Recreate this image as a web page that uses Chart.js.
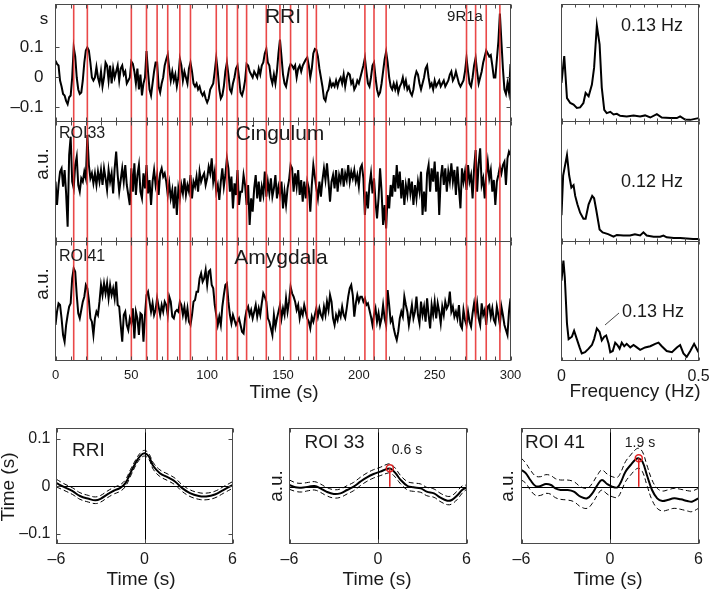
<!DOCTYPE html>
<html>
<head>
<meta charset="utf-8">
<script src="https://cdn.jsdelivr.net/npm/chart.js@4.4.0/dist/chart.umd.min.js"></script>
<style>
  html, body { margin: 0; padding: 0; background: #fff; overflow: hidden; }
  #fig { position: relative; width: 709px; height: 590px; overflow: hidden; }
  #fig canvas { position: absolute; }
</style>
</head>
<body>
<div id="fig"></div>
<script>
// ===== data: time series (1 s sampling, 0..300 s)
const sampleStep = 1;
const rri = [
  0.056, 0.045, 0.04, -0.01, -0.03, -0.055, -0.06, -0.078, -0.089, -0.066,
  -0.06, 0.0, 0.1, 0.07, 0.0, -0.04, -0.055, -0.05, -0.01, 0.05,
  0.09, 0.1, 0.09, 0.05, 0.0, -0.01, 0.0, 0.035, 0.0, -0.02,
  0.02, -0.03, 0.0, 0.05, 0.04, -0.01, 0.04, -0.02, 0.03, 0.0,
  0.02, 0.04, -0.01, 0.03, 0.04, 0.01, 0.02, -0.02, -0.01, 0.0,
  0.053, 0.045, 0.02, -0.02, 0.03, -0.04, 0.01, -0.06, -0.02, 0.0,
  0.088, 0.02, -0.04, -0.06, -0.02, 0.02, 0.05, 0.05, -0.03, -0.05,
  -0.02, 0.0, 0.04, 0.06, 0.076, 0.03, -0.01, 0.02, -0.01, 0.01,
  -0.03, 0.0, 0.062, 0.04, -0.01, 0.02, 0.0, -0.02, 0.03, 0.05,
  0.02, -0.02, -0.03, -0.02, -0.04, -0.03, -0.05, -0.06, -0.05, -0.07,
  -0.083, -0.07, -0.04, -0.03, -0.02, 0.02, 0.065, 0.02, -0.04, -0.07,
  -0.06, -0.03, 0.02, 0.05, 0.01, -0.04, -0.05, -0.02, 0.0, 0.03,
  0.04, 0.0, -0.05, -0.06, -0.04, -0.01, 0.045, 0.04, 0.02, 0.01,
  0.0, 0.02, 0.01, 0.0, 0.03, 0.01, 0.04, 0.05, 0.08, 0.095,
  0.05, 0.04, 0.0, -0.02, 0.01, -0.02, 0.02, 0.08, 0.126, 0.07,
  0.01, -0.02, -0.03, 0.0, 0.03, 0.045, 0.04, 0.03, 0.04, 0.0,
  0.03, 0.04, 0.02, 0.04, 0.05, 0.06, 0.067, 0.04, 0.0, 0.03,
  0.08, 0.095, 0.092, 0.07, 0.03, 0.0, -0.03, -0.07, -0.078, -0.05,
  -0.04, -0.01, -0.03, -0.02, -0.03, -0.01, -0.03, -0.01, 0.0, -0.02,
  0.01, -0.03, 0.0, 0.015, 0.01, -0.02, -0.01, -0.04, -0.03, -0.01,
  -0.02, 0.0, 0.02, 0.04, 0.065, 0.02, -0.02, -0.03, 0.0, 0.04,
  0.05, 0.0, -0.04, -0.06, -0.05, -0.02, 0.02, 0.06, 0.086, 0.05,
  0.0, -0.03, -0.04, -0.02, -0.04, -0.02, -0.05, -0.03, -0.02, 0.0,
  -0.03, -0.01, -0.04, -0.03, -0.05, -0.06, -0.04, 0.0, 0.02, 0.01,
  -0.02, -0.04, -0.02, 0.0, 0.03, 0.04, 0.0, -0.03, -0.02, -0.04,
  -0.01, -0.03, -0.02, -0.01, -0.03, -0.02, -0.01, -0.03, -0.02, -0.01,
  0.01, 0.02, -0.01, 0.0, 0.02, 0.0, -0.02, -0.03, -0.02, -0.01,
  0.02, 0.065, 0.02, -0.02, -0.03, 0.0, 0.04, 0.065, 0.02, -0.02,
  0.0, 0.02, 0.05, 0.07, 0.09, 0.08, 0.07, 0.075, 0.04, 0.0,
  0.0, 0.06, 0.12, 0.213, 0.12, 0.03, -0.04, -0.055, -0.02, -0.05,
  0.045
];
const cingulum = [
  0.0, -0.7, -0.1, 0.3, 0.4, -0.15, 0.35, -0.35, -1.35, 0.8,
  1.35, 0.0, -0.2, 0.5, 0.75, -0.1, -0.3, 0.1, 0.0, 0.3,
  0.1, 1.4, 0.5, 0.1, 0.25, -0.05, 0.25, -0.1, 0.3, 0.0,
  0.35, -0.1, 0.4, 0.1, -0.25, 0.35, 0.0, 0.25, -0.35, 0.4,
  0.9, 0.2, -0.3, 0.05, 0.4, 0.0, 0.5, -0.1, -0.4, -0.7,
  0.4, -0.3, 0.55, -0.4, 0.2, 0.5, -0.3, -0.5, 0.25, -0.2,
  0.5, -0.35, 0.05, -0.7, 0.0, 0.35, -0.1, 0.2, -0.4, 0.25,
  0.4, 0.15, 0.25, 0.0, -0.4, -0.05, -0.5, -0.25, -0.8, -0.15,
  -1.0, -0.2, -0.5, -0.1, -0.35, 0.1, -0.4, -0.1, -0.3, 0.2,
  -0.5, 0.0, -0.15, 0.15, -0.3, 0.3, 0.0, 0.15, 0.25, -0.1,
  0.1, 0.45, 0.25, 0.7, 0.0, 0.3, -0.3, -0.1, -0.55, 0.0,
  0.4, -0.15, 0.2, 0.7, 0.4, -0.3, 0.15, -0.8, -0.05, -0.4,
  0.35, -0.7, -0.3, -0.3, 0.2, -0.1, -0.7, -0.1, -1.3, -0.5,
  -0.9, -0.2, 0.2, -0.5, 0.0, -0.6, -0.15, -0.4, 0.3, -0.45,
  0.0, -0.35, 0.1, -0.45, -0.2, 0.2, -0.5, -0.15, -0.4, 0.0,
  -0.8, -0.3, -0.7, -0.2, 0.05, 0.5, 0.4, -0.3, 0.25, -0.15,
  0.35, -0.4, 0.05, -0.6, 0.0, -0.5, 0.0, -0.2, -0.9, -0.1,
  0.5, 0.15, -0.2, -0.5, 0.0, -0.45, 0.05, 0.4, 0.05, 0.55,
  0.0, -0.6, 0.0, 0.2, -0.2, 0.35, -0.3, 0.2, 0.0, 0.4,
  -0.15, 0.25, 0.05, 0.5, 0.0, 0.3, 0.1, 0.35, 0.0, 0.2,
  -0.15, 0.4, 0.5, 0.1, -1.0, -0.3, -0.8, -0.1, 0.25, -0.35,
  0.1, -0.6, -1.1, -0.5, 0.4, -0.3, -1.3, -0.7, -1.4, -0.4,
  -0.8, -0.1, -0.45, 0.2, -0.3, 0.5, -0.2, 0.3, -0.5, 0.05,
  -0.7, -0.1, -0.4, 0.1, -0.35, 0.0, -0.7, -0.1, -0.5, 0.0,
  -0.3, 0.3, -1.0, -0.3, -0.9, 0.25, 0.5, -0.3, 0.4, 0.0,
  0.6, -0.3, 0.3, -1.0, 0.1, 0.5, -0.1, 0.4, -0.3, 0.3,
  0.0, 0.55, 0.0, 0.35, -0.4, 0.45, -0.2, -0.8, 0.4, 0.0,
  0.3, -0.25, 0.5, 0.0, 0.2, -0.5, 0.4, 0.95, -0.3, 0.55,
  1.0, -0.1, 0.1, -0.5, 0.2, 0.6, 0.1, 0.35, -0.3, 0.05,
  -0.7, 0.0, 0.2, 0.45, 0.25, 0.5, 0.6, -0.1, 0.7, 0.9,
  0.8
];
const amygdala = [
  -0.4, 0.0, 0.25, 0.2, -0.2, -0.7, -0.9, -0.4, -0.1, 0.15,
  0.25, 1.0, 1.3, 1.2, 0.5, -0.05, -0.2, 0.05, 0.3, 0.45,
  0.8, 0.7, 0.35, -0.2, -0.3, -0.7, -0.2, 0.0, -0.1, 0.3,
  0.8, 0.5, 0.85, 0.55, 0.85, 0.4, 0.8, 0.5, 0.7, 0.4,
  0.9, 0.2, 0.15, -0.4, -0.9, -0.1, 0.0, -0.4, -0.55, -0.2,
  -0.35, 0.1, -0.8, 0.0, -0.2, -0.7, -0.05, -0.1, -0.9, -0.1,
  0.5, 0.6, 0.3, 0.0, 0.25, -0.1, 0.05, 0.4, 0.15, -0.1,
  0.2, 0.0, 0.3, 0.2, -0.1, 0.45, 0.3, -0.15, -0.2, 0.0,
  0.05, 0.0, 0.3, 0.2, -0.1, 0.15, -0.2, 0.1, -0.3, -0.4,
  -0.1, 0.3, 0.35, 0.6, 0.6, 1.0, 1.15, 0.9, 1.0, 1.25,
  0.8, 1.2, 1.25, 0.8, 0.7, 0.2, -0.1, -0.4, -0.15, -0.4,
  0.15, 0.5, 0.8, 0.85, 0.3, -0.1, -0.35, -0.1, -0.25, -0.4,
  -0.3, -0.2, -0.4, -0.6, -0.65, -0.2, 0.05, 0.15, -0.1, 0.05,
  -0.2, 0.0, 0.2, -0.15, 0.1, -0.1, 0.25, 0.55, 0.45, 0.3,
  -0.2, -0.3, -0.5, -0.7, -0.1, -0.45, -0.2, 0.0, 0.2, -0.2,
  0.1, -0.1, 0.4, 0.0, 0.3, 0.75, 0.55, 0.45, 0.3, 0.05,
  0.2, -0.2, 0.05, -0.1, 0.2, 0.0, -0.2, -0.3, -0.5, -0.15,
  -0.3, -0.1, 0.1, -0.15, 0.1, -0.1, -0.2, 0.15, -0.1, 0.3,
  0.05, 0.5, 0.3, -0.2, -0.4, -0.1, -0.25, 0.0, -0.15, 0.15,
  -0.1, -0.2, 0.1, 0.45, 0.7, 0.8, 0.5, -0.15, 0.25, 0.5,
  0.3, 0.45, 0.45, 0.3, 0.4, 0.2, 0.25, 0.05, -0.15, -0.4,
  -0.1, 0.1, -0.3, -0.05, -0.4, -0.2, 0.2, -0.2, -0.4, 0.65,
  0.2, -0.3, -0.2, -0.5, -0.7, -0.85, -0.6, -0.2, 0.0, -0.15,
  0.45, 0.2, 0.0, -0.4, -0.1, 0.2, -0.2, 0.0, 0.45, -0.1,
  -0.35, 0.3, -0.1, 0.15, -0.3, 0.4, -0.1, -0.5, 0.2, -0.1,
  0.3, -0.2, 0.25, 0.0, -0.35, 0.15, -0.1, 0.3, 0.1, 0.2,
  0.6, 0.0, 0.15, -0.15, 0.0, -0.2, 0.2, -0.4, -0.5, 0.05,
  -0.25, -0.4, 0.0, -0.3, -0.45, -0.05, 0.25, -0.1, 0.25, -0.2,
  -0.4, 0.25, -0.1, 0.05, -0.4, 0.15, 0.2, -0.15, 0.1, -0.25,
  -0.35, 0.15, -0.1, -0.4, 0.15, -0.1, -0.4, -0.55, -0.7, 0.0,
  0.4
];
// event markers (s)
const eventTimes = [12, 21, 50, 60, 67, 74, 82, 89, 106, 113, 120, 126, 139, 148, 155, 166, 172, 204, 210, 218, 271, 277, 284, 293];

// ===== data: spectra (normalised power)
const freqRRI = [0, 0.010, 0.020, 0.032, 0.044, 0.056, 0.068, 0.080, 0.088, 0.099, 0.111, 0.119, 0.129, 0.139, 0.147, 0.156, 0.165, 0.178, 0.190, 0.202, 0.214, 0.238, 0.263, 0.287, 0.305, 0.324, 0.348, 0.366, 0.397, 0.421, 0.433, 0.451, 0.470, 0.500];
const powRRI = [0.33, 0.56, 0.20, 0.158, 0.144, 0.115, 0.12, 0.158, 0.244, 0.216, 0.316, 0.46, 0.82, 0.66, 0.29, 0.10, 0.072, 0.083, 0.06, 0.066, 0.049, 0.043, 0.052, 0.043, 0.052, 0.034, 0.063, 0.034, 0.029, 0.029, 0.043, 0.017, 0.014, 0.029];
const freqCing = [0, 0.006, 0.020, 0.028, 0.036, 0.044, 0.050, 0.058, 0.068, 0.080, 0.088, 0.099, 0.112, 0.119, 0.127, 0.139, 0.150, 0.170, 0.190, 0.202, 0.226, 0.250, 0.268, 0.287, 0.299, 0.311, 0.336, 0.360, 0.372, 0.384, 0.410, 0.433, 0.457, 0.480, 0.500];
const powCing = [0.22, 0.55, 0.72, 0.55, 0.45, 0.47, 0.38, 0.31, 0.24, 0.19, 0.19, 0.31, 0.38, 0.36, 0.26, 0.10, 0.076, 0.062, 0.04, 0.055, 0.05, 0.05, 0.06, 0.05, 0.076, 0.05, 0.04, 0.04, 0.05, 0.035, 0.03, 0.03, 0.025, 0.02, 0.02];
const freqAmyg = [0, 0.007, 0.012, 0.020, 0.026, 0.038, 0.046, 0.056, 0.066, 0.074, 0.086, 0.099, 0.111, 0.119, 0.129, 0.139, 0.147, 0.156, 0.163, 0.172, 0.178, 0.187, 0.196, 0.204, 0.212, 0.220, 0.229, 0.238, 0.251, 0.263, 0.275, 0.287, 0.305, 0.324, 0.342, 0.354, 0.366, 0.384, 0.403, 0.421, 0.433, 0.445, 0.457, 0.470, 0.484, 0.500];
const powAmyg = [0.67, 0.84, 0.70, 0.31, 0.18, 0.20, 0.25, 0.18, 0.11, 0.06, 0.07, 0.10, 0.13, 0.18, 0.27, 0.24, 0.17, 0.20, 0.21, 0.14, 0.07, 0.08, 0.15, 0.13, 0.10, 0.15, 0.12, 0.14, 0.11, 0.13, 0.11, 0.09, 0.11, 0.12, 0.14, 0.15, 0.12, 0.08, 0.07, 0.11, 0.13, 0.06, 0.03, 0.08, 0.14, 0.07];

// ===== data: event-locked averages (mean and +/- band)
const lagRRI = [-6, -5.5, -4.9, -4.4, -3.8, -3.35, -3.0, -2.55, -2.1, -1.65, -1.3, -0.95, -0.6, -0.3, 0, 0.3, 0.6, 1.05, 1.6, 2.1, 2.55, 3.1, 3.7, 4.2, 4.8, 5.4, 6];
const avgRRI = [0.007, -0.001, -0.01, -0.02, -0.026, -0.029, -0.026, -0.017, -0.009, -0.003, 0.007, 0.029, 0.05, 0.064, 0.07, 0.063, 0.043, 0.028, 0.019, 0.01, -0.003, -0.014, -0.02, -0.021, -0.017, -0.007, 0.003];
const upRRI = [0.015, 0.006, -0.003, -0.013, -0.019, -0.022, -0.019, -0.010, -0.002, 0.004, 0.014, 0.036, 0.056, 0.070, 0.076, 0.069, 0.050, 0.035, 0.026, 0.017, 0.004, -0.007, -0.013, -0.014, -0.010, 0.000, 0.010];
const loRRI = [-0.001, -0.008, -0.017, -0.027, -0.033, -0.036, -0.033, -0.024, -0.016, -0.010, 0.000, 0.022, 0.044, 0.058, 0.064, 0.057, 0.036, 0.021, 0.012, 0.003, -0.010, -0.021, -0.027, -0.028, -0.024, -0.014, -0.004];

const lag33 = [-6, -5.6, -5.2, -4.7, -4.3, -3.9, -3.5, -3.0, -2.55, -2.1, -1.65, -1.2, -0.75, -0.3, 0.15, 0.6, 0.85, 1.2, 1.5, 2.0, 2.4, 2.9, 3.3, 3.8, 4.2, 4.7, 5.0, 5.4, 5.7, 6];
const avg33 = [0.05, -0.02, -0.03, 0.0, 0.02, -0.05, -0.15, -0.22, -0.2, -0.1, 0.0, 0.15, 0.28, 0.38, 0.45, 0.53, 0.54, 0.4, 0.22, 0.02, -0.02, -0.05, -0.15, -0.2, -0.32, -0.42, -0.4, -0.25, -0.1, -0.02];
const up33 = [0.2, 0.12, 0.1, 0.13, 0.15, 0.08, -0.02, -0.09, -0.07, 0.03, 0.13, 0.28, 0.41, 0.51, 0.58, 0.67, 0.68, 0.54, 0.35, 0.15, 0.11, 0.08, -0.02, -0.07, -0.19, -0.29, -0.27, -0.12, 0.02, 0.05];
const lo33 = [-0.08, -0.14, -0.16, -0.12, -0.1, -0.17, -0.27, -0.34, -0.32, -0.22, -0.12, 0.03, 0.16, 0.26, 0.33, 0.4, 0.41, 0.27, 0.1, -0.1, -0.14, -0.17, -0.27, -0.32, -0.44, -0.54, -0.52, -0.37, -0.2, -0.08];
const peak33 = [0.8, 0.55];   // [lag, value]

const lag41 = [-6, -5.7, -5.4, -5.05, -4.7, -4.35, -4.0, -3.7, -3.35, -2.9, -2.45, -2.0, -1.55, -1.2, -0.85, -0.55, -0.2, 0.15, 0.5, 0.75, 1.05, 1.4, 1.75, 1.95, 2.2, 2.5, 2.85, 3.2, 3.55, 3.9, 4.35, 4.8, 5.25, 5.55, 6];
const avg41 = [0.5, 0.4, 0.2, 0.02, 0.02, 0.08, 0.05, -0.05, -0.1, -0.1, -0.15, -0.3, -0.35, -0.2, 0.05, 0.2, 0.08, 0.0, -0.02, 0.15, 0.45, 0.65, 0.82, 0.85, 0.75, 0.35, -0.1, -0.35, -0.43, -0.4, -0.35, -0.38, -0.43, -0.45, -0.35];
const up41 = [0.85, 0.7, 0.5, 0.32, 0.3, 0.36, 0.33, 0.24, 0.2, 0.2, 0.15, 0.0, -0.05, 0.1, 0.35, 0.5, 0.38, 0.3, 0.28, 0.45, 0.75, 0.95, 1.12, 1.15, 1.05, 0.65, 0.2, -0.05, -0.13, -0.1, -0.05, -0.08, -0.12, -0.13, -0.05];
const lo41 = [0.2, 0.1, -0.1, -0.26, -0.26, -0.2, -0.23, -0.33, -0.38, -0.4, -0.45, -0.6, -0.65, -0.5, -0.25, -0.1, -0.22, -0.3, -0.32, -0.15, 0.15, 0.35, 0.52, 0.55, 0.45, 0.05, -0.4, -0.65, -0.73, -0.7, -0.65, -0.68, -0.73, -0.75, -0.65];
const peak41 = [1.95, 0.85];

// ===== ticks
const timeLabels = [0, 50, 100, 150, 200, 250, 300];
const timeMarks = [0, 10, 20, 30, 40, 50, 60, 70, 80, 90, 100, 110, 120, 130, 140, 150, 160, 170, 180, 190, 200, 210, 220, 230, 240, 250, 260, 270, 280, 290, 300];
const rriTicks = [-0.1, 0, 0.1];
const freqLabels = [0, 0.5];
const freqMarks = [0, 0.05, 0.1, 0.15, 0.2, 0.25, 0.3, 0.35, 0.4, 0.45, 0.5];
const lagLabels = [-6, 0, 6];
const avgTicks = [-0.1, 0, 0.1];

const times = rri.map((_, i) => i * sampleStep);

// ===== look
const FONT = "'Liberation Sans', Arial, Helvetica, sans-serif";
const INK = '#1a1a1a';
const BOX = '#4a4a4a';
Chart.defaults.font.family = FONT;
Chart.defaults.color = INK;

const fig = document.getElementById('fig');
const decorOf = new WeakMap();

const pts = (xs, ys) => xs.map((v, i) => ({ x: v, y: ys[i] }));
const solid = (xs, ys, w, extra) => Object.assign({
  data: pts(xs, ys), borderColor: '#000', borderWidth: w,
  pointRadius: 0, tension: 0, fill: false, order: 1
}, extra || {});
const dashed = (xs, ys) => solid(xs, ys, 1, { borderDash: [5, 3], tension: 0.4, order: 2 });
const fmt = v => (v < 0 ? '\u2013' : '') + String(Math.abs(v));

// ===== decoration: box, inward ticks, markers, texts
const decor = {
  id: 'decor',
  beforeDatasetsDraw(chart) {
    const o = decorOf.get(chart.canvas);
    if (!o || !o.zeroLines) return;
    const { ctx, chartArea: a, scales: { x, y } } = chart;
    ctx.save();
    ctx.strokeStyle = '#000';
    ctx.lineWidth = 1;
    const px = Math.round(x.getPixelForValue(0)) + 0.5;
    const py = Math.round(y.getPixelForValue(0)) + 0.5;
    ctx.beginPath();
    ctx.moveTo(px, a.top); ctx.lineTo(px, a.bottom);
    ctx.moveTo(a.left, py); ctx.lineTo(a.right, py);
    ctx.stroke();
    ctx.restore();
  },
  afterDatasetsDraw(chart) {
    const o = decorOf.get(chart.canvas);
    if (!o) return;
    const { ctx, chartArea: a, scales: { x, y } } = chart;
    ctx.save();
    if (o.events) {
      ctx.strokeStyle = 'rgba(230, 40, 40, 0.85)';
      ctx.lineWidth = 1.6;
      ctx.beginPath();
      o.events.forEach(t => {
        const px = x.getPixelForValue(t);
        ctx.moveTo(px, a.top); ctx.lineTo(px, a.bottom);
      });
      ctx.stroke();
    }
    ctx.strokeStyle = BOX;
    ctx.lineWidth = 1;
    ctx.strokeRect(a.left, a.top, a.right - a.left, a.bottom - a.top);
    const L = o.markLen || 4;
    ctx.beginPath();
    (o.xMarks || []).forEach(v => {
      const px = Math.round(x.getPixelForValue(v)) + 0.5;
      ctx.moveTo(px, a.bottom); ctx.lineTo(px, a.bottom - L);
      ctx.moveTo(px, a.top); ctx.lineTo(px, a.top + L);
    });
    (o.yMarks || []).forEach(v => {
      const py = Math.round(y.getPixelForValue(v)) + 0.5;
      ctx.moveTo(a.left, py); ctx.lineTo(a.left + L, py);
      ctx.moveTo(a.right, py); ctx.lineTo(a.right - L, py);
    });
    ctx.stroke();
    ctx.restore();
  },
  afterDraw(chart) {
    const o = decorOf.get(chart.canvas);
    if (!o) return;
    const ctx = chart.ctx;
    ctx.save();
    (o.texts || []).forEach(t => {
      ctx.save();
      ctx.translate(t.x - o.ox, t.y - o.oy);
      if (t.rot) ctx.rotate(t.rot);
      if (t.line) {
        ctx.strokeStyle = INK; ctx.lineWidth = 0.8;
        ctx.beginPath();
        ctx.moveTo(0, 0); ctx.lineTo(t.line[0], t.line[1]);
        ctx.stroke();
      } else {
        ctx.fillStyle = INK;
        ctx.font = t.size + 'px ' + FONT;
        ctx.textAlign = t.align || 'center';
        ctx.textBaseline = 'middle';
        ctx.fillText(t.s, 0, 0);
      }
      ctx.restore();
    });
    ctx.restore();
  }
};
Chart.register(decor);

function axis(spec, fixed, horizontal) {
  const labels = spec.labels || [];
  return {
    type: 'linear', min: spec.min, max: spec.max,
    grid: { display: false, drawTicks: false },
    border: { display: false },
    ticks: {
      display: labels.length > 0, autoSkip: false, maxRotation: 0,
      padding: spec.pad || 6, font: { size: spec.size || 16 },
      callback: fmt
    },
    afterBuildTicks: s => {
      s.ticks = (labels.length ? labels : [spec.min, spec.max]).map(v => ({ value: v }));
    },
    afterFit: s => {
      if (horizontal) { s.height = fixed; s.paddingLeft = 0; s.paddingRight = 0; }
      else { s.width = fixed; s.paddingTop = 0; s.paddingBottom = 0; }
    }
  };
}

// box: [left, top, width, height] of canvas; area: [x0, y0, x1, y1] plot frame (page px)
function panel(p) {
  const [cl, ct, cw, ch] = p.box;
  const [x0, y0, x1, y1] = p.area;
  const c = document.createElement('canvas');
  c.width = cw; c.height = ch;
  c.style.left = cl + 'px'; c.style.top = ct + 'px';
  c.style.width = cw + 'px'; c.style.height = ch + 'px';
  fig.appendChild(c);
  decorOf.set(c, Object.assign({ ox: cl, oy: ct }, p.decor));
  return new Chart(c, {
    type: 'line',
    data: { datasets: p.datasets },
    options: {
      responsive: false, animation: false, events: [],
      layout: { padding: { left: 0, top: y0 - ct, right: cl + cw - x1, bottom: 0 } },
      plugins: { legend: { display: false }, tooltip: { enabled: false } },
      scales: {
        x: axis(p.x, ct + ch - y1, true),
        y: axis(p.y, x0 - cl, false)
      }
    }
  });
}

const R90 = -Math.PI / 2;

// ===== top left: time series
panel({
  box: [0, 0, 530, 130], area: [55.5, 4.5, 510.5, 121.5],
  datasets: [solid(times, rri, 2)],
  x: { min: 0, max: 300 },
  y: { min: -0.1467, max: 0.2433, labels: rriTicks, size: 17, pad: 12 },
  decor: {
    events: eventTimes, xMarks: timeMarks, yMarks: rriTicks,
    texts: [
      { s: 'RRI', x: 283, y: 17, size: 21 },
      { s: '9R1a', x: 465, y: 17, size: 15 },
      { s: 's', x: 44, y: 19, size: 17 }
    ]
  }
});
panel({
  box: [0, 115, 530, 135], area: [55.5, 121.5, 510.5, 241.5],
  datasets: [solid(times, cingulum, 2)],
  x: { min: 0, max: 300 },
  y: { min: -1.795, max: 1.805 },
  decor: {
    events: eventTimes, xMarks: timeMarks,
    texts: [
      { s: 'ROI33', x: 59, y: 134, size: 16, align: 'left' },
      { s: 'Cingulum', x: 280, y: 134, size: 21 },
      { s: 'a.u.', x: 43, y: 164, size: 19, rot: R90 }
    ]
  }
});
panel({
  box: [0, 235, 530, 175], area: [55.5, 241.5, 510.5, 360.5],
  datasets: [solid(times, amygdala, 2)],
  x: { min: 0, max: 300, labels: timeLabels, size: 13, pad: 7 },
  y: { min: -1.465, max: 2.105 },
  decor: {
    events: eventTimes, xMarks: timeMarks,
    texts: [
      { s: 'ROI41', x: 59, y: 257, size: 16, align: 'left' },
      { s: 'Amygdala', x: 281, y: 258, size: 21 },
      { s: 'a.u.', x: 43, y: 284, size: 19, rot: R90 },
      { s: 'Time (s)', x: 284, y: 393, size: 19 }
    ]
  }
});

// ===== top right: spectra
panel({
  box: [530, 0, 190, 130], area: [561.5, 4.5, 698.5, 121.5],
  datasets: [solid(freqRRI, powRRI, 2)],
  x: { min: 0, max: 0.5 }, y: { min: 0, max: 1 },
  decor: { xMarks: freqMarks, markLen: 3, texts: [{ s: '0.13 Hz', x: 652, y: 26, size: 18 }] }
});
panel({
  box: [530, 115, 190, 135], area: [561.5, 121.5, 698.5, 241.5],
  datasets: [solid(freqCing, powCing, 2)],
  x: { min: 0, max: 0.5 }, y: { min: 0, max: 1 },
  decor: { xMarks: freqMarks, markLen: 3, texts: [{ s: '0.12 Hz', x: 652, y: 182, size: 18 }] }
});
panel({
  box: [530, 235, 190, 175], area: [561.5, 241.5, 698.5, 360.5],
  datasets: [solid(freqAmyg, powAmyg, 2)],
  x: { min: 0, max: 0.5, labels: freqLabels, size: 16, pad: 6 }, y: { min: 0, max: 1 },
  decor: {
    xMarks: freqMarks, markLen: 3,
    texts: [
      { s: '0.13 Hz', x: 653, y: 312, size: 18 },
      { x: 605, y: 325, line: [14, -12] },
      { s: 'Frequency (Hz)', x: 635, y: 392, size: 19 }
    ]
  }
});

// ===== bottom: event-locked averages
const red = '#e02020';
const stem = pk => solid([pk[0], pk[0]], [0, pk[1]], 1.5, { borderColor: red, order: 0 });
const ring = pk => solid([pk[0]], [pk[1]], 1.5, {
  showLine: false, pointRadius: 3.5, pointBorderColor: red,
  pointBackgroundColor: 'rgba(0,0,0,0)', pointBorderWidth: 1.5, order: 0
});

panel({
  box: [0, 415, 240, 175], area: [56.5, 428.5, 232.5, 543.5],
  datasets: [
    solid(lagRRI, avgRRI, 2, { tension: 0.4 }),
    dashed(lagRRI, upRRI), dashed(lagRRI, loRRI)
  ],
  x: { min: -6, max: 6, labels: lagLabels, size: 16, pad: 6 },
  y: { min: -0.12, max: 0.122, labels: avgTicks, size: 16, pad: 6 },
  decor: {
    zeroLines: true, xMarks: lagLabels, yMarks: avgTicks,
    texts: [
      { s: 'RRI', x: 72, y: 451, size: 19, align: 'left' },
      { s: 'Time (s)', x: 9, y: 487, size: 19, rot: R90 },
      { s: 'Time (s)', x: 141, y: 580, size: 19 }
    ]
  }
});
panel({
  box: [240, 415, 235, 175], area: [289.5, 428.5, 466.5, 543.5],
  datasets: [
    stem(peak33), ring(peak33),
    solid(lag33, avg33, 2, { tension: 0.4 }),
    dashed(lag33, up33), dashed(lag33, lo33)
  ],
  x: { min: -6, max: 6, labels: lagLabels, size: 16, pad: 6 },
  y: { min: -1.705, max: 1.745 },
  decor: {
    zeroLines: true, xMarks: lagLabels,
    texts: [
      { s: 'ROI 33', x: 334.5, y: 443, size: 19 },
      { s: '0.6 s', x: 407, y: 450, size: 14 },
      { s: 'a.u.', x: 277, y: 486, size: 19, rot: R90 },
      { s: 'Time (s)', x: 377, y: 580, size: 19 }
    ]
  }
});
panel({
  box: [475, 415, 245, 175], area: [521.5, 428.5, 698.5, 543.5],
  datasets: [
    stem(peak41), ring(peak41),
    solid(lag41, avg41, 2, { tension: 0.4 }),
    dashed(lag41, up41), dashed(lag41, lo41)
  ],
  x: { min: -6, max: 6, labels: lagLabels, size: 16, pad: 6 },
  y: { min: -1.705, max: 1.745 },
  decor: {
    zeroLines: true, xMarks: lagLabels,
    texts: [
      { s: 'ROI 41', x: 555, y: 443, size: 19 },
      { s: '1.9 s', x: 640, y: 443, size: 14 },
      { s: 'a.u.', x: 508, y: 486, size: 19, rot: R90 },
      { s: 'Time (s)', x: 608, y: 580, size: 19 }
    ]
  }
});
</script>
</body>
</html>
